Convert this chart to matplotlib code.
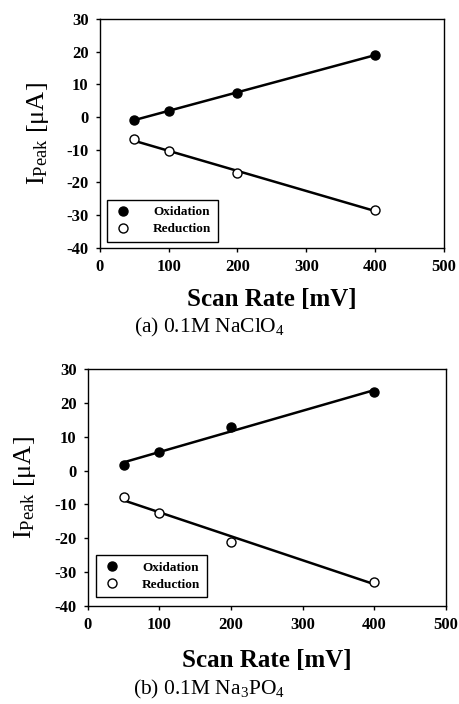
import numpy as np
import matplotlib
matplotlib.use("Agg")
import matplotlib.pyplot as plt

# scan rates [mV]
scan_rate = [50, 100, 200, 400]

# (a) 0.1M NaClO4
ox_a = [-0.8, 1.8, 7.5, 19.0]
red_a = [-6.8, -10.5, -17.0, -28.5]

# (b) 0.1M Na3PO4
ox_b = [1.7, 5.5, 12.8, 23.2]
red_b = [-7.7, -12.5, -21.0, -32.8]

captions = ["(a) 0.1M NaClO$_4$", "(b) 0.1M Na$_3$PO$_4$"]
xticks = [0, 100, 200, 300, 400, 500]
yticks = [-40, -30, -20, -10, 0, 10, 20, 30]

plt.rcParams['font.family'] = ['Liberation Serif', 'DejaVu Serif']
plt.rcParams['mathtext.fontset'] = 'custom'
plt.rcParams['mathtext.rm'] = 'Liberation Serif'
plt.rcParams['mathtext.it'] = 'Liberation Serif:italic'
plt.rcParams['mathtext.bf'] = 'Liberation Serif:bold'
plt.rcParams['axes.unicode_minus'] = False

fig = plt.figure(figsize=(4.6, 7.04), dpi=100)

panels = [
    # axes rect, data, legend anchor, ylabel x, caption y, xlabel offset
    ([0.217, 0.648, 0.748, 0.325], ox_a, red_a, (0.02, 0.026), 0.082, 0.535, -0.175),
    ([0.191, 0.139, 0.778, 0.337], ox_b, red_b, (0.022, 0.038), 0.055, 0.021, -0.18),
]

for i, (rect, ox, red, leg_anchor, ylab_x, cap_y, xlab_off) in enumerate(panels):
    ax = fig.add_axes(rect)
    x = np.array(scan_rate)

    # linear fits
    p_ox = np.polyfit(x, ox, 1)
    p_red = np.polyfit(x, red, 1)
    ax.plot(x[[0, -1]], np.polyval(p_ox, x[[0, -1]]), color='black', lw=1.8)
    ax.plot(x[[0, -1]], np.polyval(p_red, x[[0, -1]]), color='black', lw=1.8)

    ax.plot(x, ox, linestyle='none', marker='o', ms=6.5, mfc='black', mec='black',
            label='Oxidation')
    ax.plot(x, red, linestyle='none', marker='o', ms=6.5, mfc='white', mec='black',
            mew=1.0, label='Reduction')

    ax.set_xlim(0, 500)
    ax.set_ylim(-40, 30)
    ax.set_xticks(xticks)
    ax.set_yticks(yticks)
    ax.tick_params(direction='out', length=3, width=1, labelsize=12, pad=5)
    for lab in ax.get_xticklabels() + ax.get_yticklabels():
        lab.set_fontweight('bold')
    for s in ax.spines.values():
        s.set_linewidth(1.0)

    leg = ax.legend(loc='lower left', bbox_to_anchor=leg_anchor, frameon=True,
                    fancybox=False, edgecolor='black', framealpha=1,
                    borderaxespad=0,
                    prop={'weight': 'bold', 'size': 9.5}, handletextpad=1.5,
                    borderpad=0.5, labelspacing=0.35, handlelength=1.5)
    leg.get_frame().set_linewidth(1.0)

    ax.set_xlabel('Scan Rate [mV]', fontsize=18, fontweight='bold')
    ax.xaxis.set_label_coords(0.5, xlab_off)
    fig.text(ylab_x, rect[1] + rect[3] / 2, r'I$_{\mathrm{Peak}}$ [$\mathrm{\mu}$A]',
             rotation=90, fontsize=19, ha='center', va='center')
    fig.text(0.455, cap_y, captions[i], fontsize=15.5, ha='center', va='center')

fig.savefig('out.png', dpi=100)
